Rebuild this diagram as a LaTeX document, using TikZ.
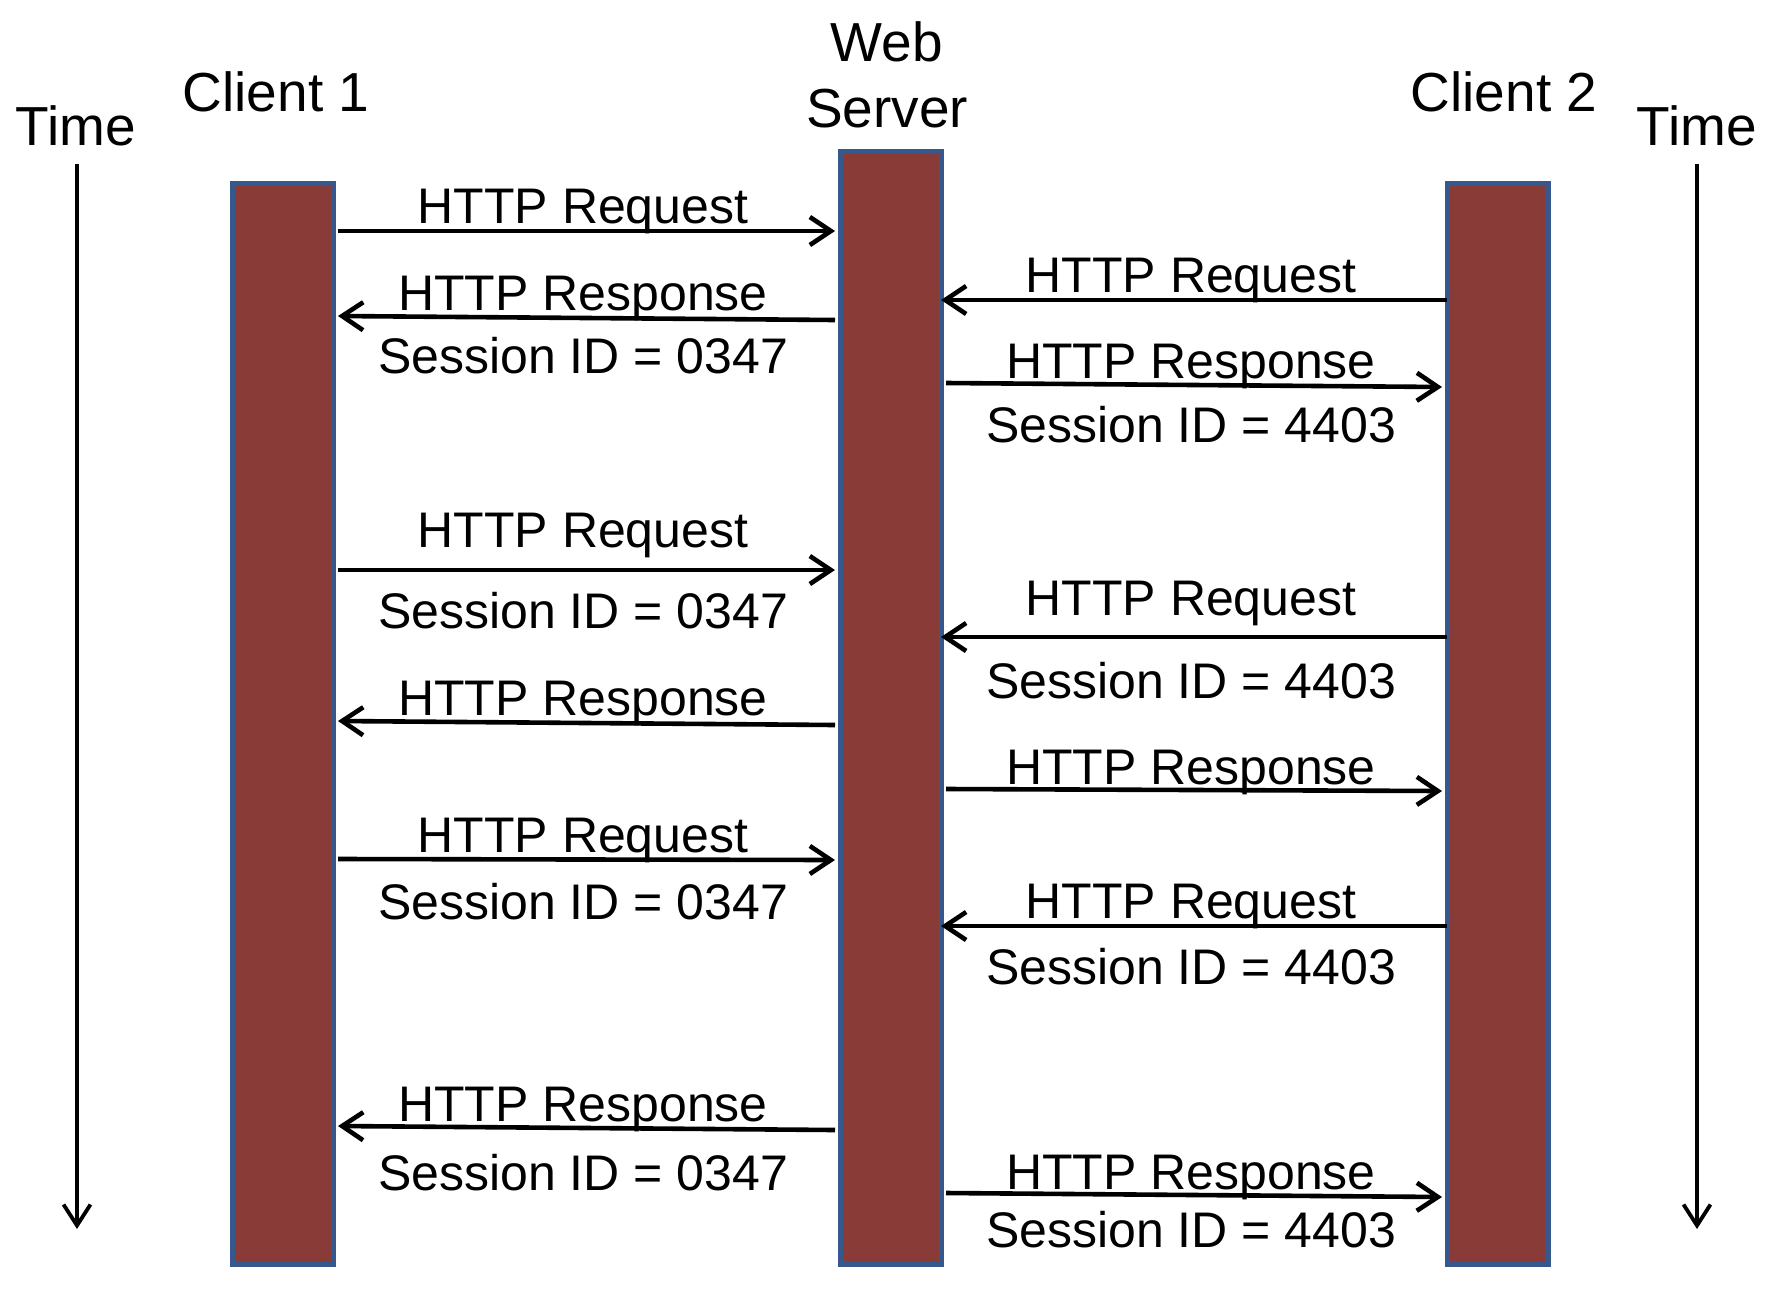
\documentclass[tikz,border=0pt]{standalone}
\usepackage{fontspec}
\setmainfont{Liberation Sans}
\usetikzlibrary{arrows.meta}
\definecolor{barred}{RGB}{137,59,56}
\definecolor{barblue}{RGB}{55,88,140}
\newcommand{\lblfont}{\fontsize{50}{60}\selectfont}
\newcommand{\ttlfont}{\fontsize{55}{66}\selectfont}
\tikzset{
  bar/.style={draw=barblue, fill=barred, line width=5pt, rectangle, inner sep=0pt,
              minimum width=101pt, anchor=north west},
  msg/.style={line width=4.6pt, -{Straight Barb[length=21pt,width=28pt]}},
  timeax/.style={line width=3.8pt, -{Straight Barb[length=21pt,width=27pt]}},
  lbl/.style={anchor=base, inner sep=0pt, font=\lblfont},
  ttl/.style={anchor=base, inner sep=0pt, font=\ttlfont},
}
\begin{document}
\begin{tikzpicture}[x=1pt, y=-1pt]
\useasboundingbox[fill=white] (0,0) rectangle (1778,1288);

% titles
\node[ttl] (t1) at (76,145) {Time};
\node[ttl] (cl1) at (276,111) {Client 1};
\node[ttl] (ws1) at (887,61) {Web};
\node[ttl] (ws2) at (887,127) {Server};
\node[ttl] (cl2) at (1504,111) {Client 2};
\node[ttl] (t2) at (1697,145) {Time};

% time axes
\coordinate (ta1) at (77,164);
\coordinate (tb1) at (77,1229);
\coordinate (ta2) at (1697,164);
\coordinate (tb2) at (1697,1229);
\draw[timeax] (ta1) -- (tb1);
\draw[timeax] (ta2) -- (tb2);

% lifelines
\node[bar, minimum height=1081pt] (c1) at (229.5,180.5) {};
\node[bar, minimum height=1113pt] (srv) at (837.5,148.5) {};
\node[bar, minimum height=1081pt] (c2) at (1444.5,180.5) {};

% ---- Client 1 <-> Server ----
\draw[msg] ([xshift=2.5pt]c1.east |- 0,231) -- ([xshift=-2.5pt]srv.west |- 0,231);
\node[lbl] (l1a) at (583,223) {HTTP Request};

\draw[msg] ([xshift=-2.5pt]srv.west |- 0,320) -- ([xshift=2.5pt]c1.east |- 0,316);
\node[lbl] (l2a) at (583,310) {HTTP Response};
\node[lbl] (l2b) at (583,373) {Session ID = 0347};

\draw[msg] ([xshift=2.5pt]c1.east |- 0,570) -- ([xshift=-2.5pt]srv.west |- 0,570);
\node[lbl] (l3a) at (583,547) {HTTP Request};
\node[lbl] (l3b) at (583,628) {Session ID = 0347};

\draw[msg] ([xshift=-2.5pt]srv.west |- 0,725) -- ([xshift=2.5pt]c1.east |- 0,721);
\node[lbl] (l4a) at (583,715) {HTTP Response};

\draw[msg] ([xshift=2.5pt]c1.east |- 0,859) -- ([xshift=-2.5pt]srv.west |- 0,860);
\node[lbl] (l5a) at (583,852) {HTTP Request};
\node[lbl] (l5b) at (583,919) {Session ID = 0347};

\draw[msg] ([xshift=-2.5pt]srv.west |- 0,1130) -- ([xshift=2.5pt]c1.east |- 0,1126);
\node[lbl] (l6a) at (583,1121) {HTTP Response};
\node[lbl] (l6b) at (583,1190) {Session ID = 0347};

% ---- Client 2 <-> Server ----
\draw[msg] ([xshift=2.5pt]c2.west |- 0,300) -- ([xshift=-2.5pt]srv.east |- 0,300);
\node[lbl] (r1a) at (1191,292) {HTTP Request};

\draw[msg] ([xshift=2.5pt]srv.east |- 0,383) -- ([xshift=-2.5pt]c2.west |- 0,387);
\node[lbl] (r2a) at (1191,378) {HTTP Response};
\node[lbl] (r2b) at (1191,442) {Session ID = 4403};

\draw[msg] ([xshift=2.5pt]c2.west |- 0,637) -- ([xshift=-2.5pt]srv.east |- 0,637);
\node[lbl] (r3a) at (1191,615) {HTTP Request};
\node[lbl] (r3b) at (1191,698) {Session ID = 4403};

\draw[msg] ([xshift=2.5pt]srv.east |- 0,789) -- ([xshift=-2.5pt]c2.west |- 0,791);
\node[lbl] (r4a) at (1191,784) {HTTP Response};

\draw[msg] ([xshift=2.5pt]c2.west |- 0,926) -- ([xshift=-2.5pt]srv.east |- 0,926);
\node[lbl] (r5a) at (1191,918) {HTTP Request};
\node[lbl] (r5b) at (1191,984) {Session ID = 4403};

\draw[msg] ([xshift=2.5pt]srv.east |- 0,1193) -- ([xshift=-2.5pt]c2.west |- 0,1197);
\node[lbl] (r6a) at (1191,1189) {HTTP Response};
\node[lbl] (r6b) at (1191,1247) {Session ID = 4403};
\end{tikzpicture}
\end{document}
